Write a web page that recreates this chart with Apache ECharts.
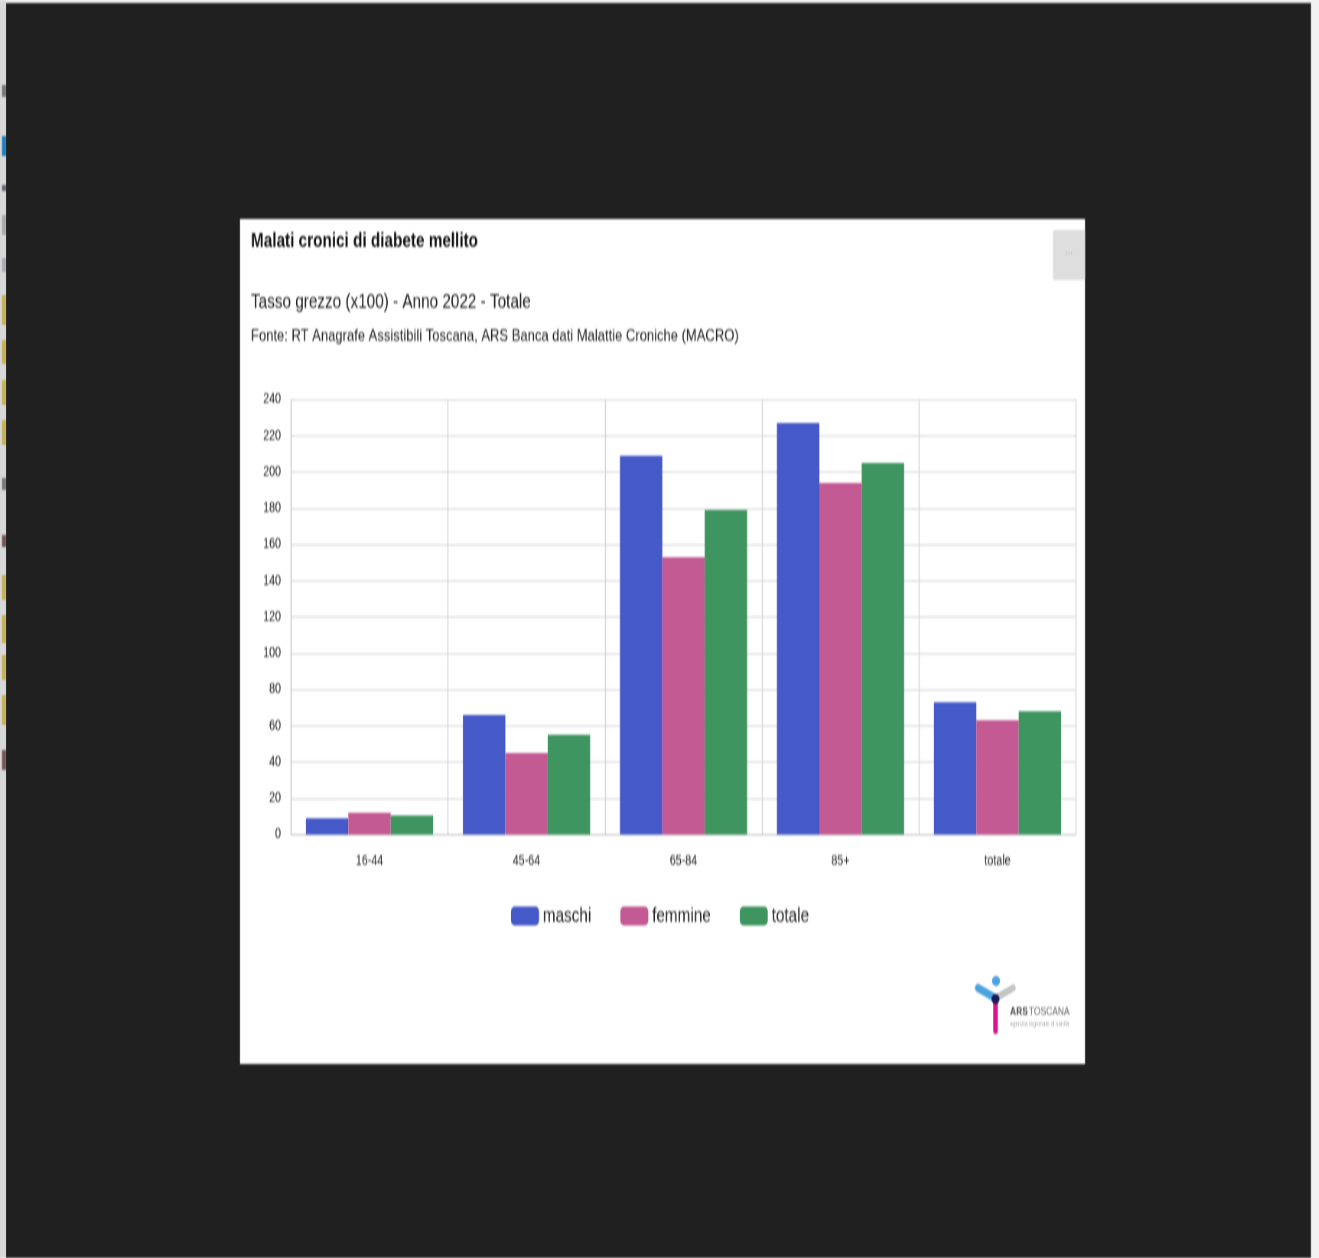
<!DOCTYPE html>
<html>
<head>
<meta charset="utf-8">
<style>
html,body{margin:0;padding:0;background:#f2f2f2;overflow:hidden}
#c{width:1724px;height:1258px;transform:scaleX(0.765);transform-origin:0 0;filter:blur(0.8px)}
</style>
<script src="https://cdn.jsdelivr.net/npm/echarts@6/dist/echarts.min.js"></script>
</head>
<body>
<div id="c"></div>
<script>
const categories = ['16-44','45-64','65-84','85+','totale'];
const maschi = [9,66,209,227,73];
const femmine = [12,45,153,194,63];
const totale = [10.5,55,179,205,68];
const seriesNames = ['maschi','femmine','totale'];
const colors = ['#4559c8','#c45a93','#3f9560'];
const font = '"Liberation Sans",Arial,sans-serif';
const sx = 0.765;
const X = v => v / sx;
const chart = echarts.init(document.getElementById('c'),null,{renderer:'canvas'});
const stripMarks = [[85,12,'#777'],[136,20,'#1a7fc0'],[185,6,'#667'],[215,20,'#aaa'],[258,14,'#aab'],[295,30,'#c9b050'],[340,24,'#c9b050'],[380,25,'#c9b050'],[420,25,'#c9b050'],[478,12,'#777'],[535,12,'#755'],[575,25,'#c9b050'],[615,28,'#c9b050'],[655,25,'#c9b050'],[695,30,'#c9b050'],[750,20,'#755']];
chart.setOption({
  animation:false,
  backgroundColor:'#f2f2f2',
  graphic:[
    {type:'rect',z:-10,shape:{x:X(6),y:3,width:X(1305),height:1255},style:{fill:'#202020'}},
    {type:'rect',z:-10,shape:{x:0,y:0,width:X(6),height:1258},style:{fill:'#d8d8d8'}},
    ...stripMarks.map(s=>({type:'rect',z:-9,shape:{x:X(2),y:s[0],width:X(4),height:s[1]},style:{fill:s[2]}})),
    {type:'rect',z:-8,shape:{x:X(240),y:219,width:X(845),height:845},style:{fill:'#ffffff'}},
    {type:'rect',z:-7,shape:{x:X(1053),y:230,width:X(32),height:50,r:2},style:{fill:'#dedede'}},
    {type:'text',z:-6,x:X(1069),y:251,style:{text:'...',fill:'#aaa',font:'12px '+font,align:'center',verticalAlign:'middle'}},
    {type:'text',x:X(251),y:241,style:{text:'Malati cronici di diabete mellito',fill:'#111',font:'bold 20px '+font,verticalAlign:'middle'}},
    {type:'text',x:X(251),y:302,style:{text:'Tasso grezzo (x100) - Anno 2022 - Totale',fill:'#1a1a1a',font:'20px '+font,verticalAlign:'middle'}},
    {type:'text',x:X(251),y:336,style:{text:'Fonte: RT Anagrafe Assistibili Toscana, ARS Banca dati Malattie Croniche (MACRO)',fill:'#1a1a1a',font:'17px '+font,verticalAlign:'middle'}},
    {type:'line',shape:{x1:X(995.5),y1:1002,x2:X(995.5),y2:1031},style:{stroke:'#d9158c',lineWidth:6,lineCap:'round'}},
    {type:'line',shape:{x1:X(978),y1:988,x2:X(995),y2:998},style:{stroke:'#4aa3df',lineWidth:8,lineCap:'round'}},
    {type:'line',shape:{x1:X(996),y1:998,x2:X(1013),y2:988},style:{stroke:'#c4c4c4',lineWidth:7,lineCap:'round'}},
    {type:'ellipse',shape:{cx:X(996),cy:981,rx:X(4),ry:5},style:{fill:'#4aa3df'}},
    {type:'ellipse',shape:{cx:X(995.5),cy:999,rx:X(4),ry:5},style:{fill:'#1a1a5a'}},
    {type:'text',x:X(1010),y:1012,style:{text:'ARS',fill:'#444',font:'bold 11px '+font,verticalAlign:'middle'}},
    {type:'text',x:X(1029),y:1012,style:{text:'TOSCANA',fill:'#666',font:'11px '+font,verticalAlign:'middle'}},
    {type:'text',x:X(1010),y:1024,style:{text:'agenzia regionale di sanità',fill:'#aaa',font:'6.5px '+font,verticalAlign:'middle'}}
  ],
  legend:{
    left:X(511),top:906,padding:0,itemWidth:X(28),itemHeight:19,itemGap:X(29),icon:'roundRect',
    textStyle:{fontFamily:font,fontSize:20,color:'#222'},
    data:seriesNames
  },
  grid:{left:X(291),top:399.5,width:X(785),height:435,containLabel:false},
  xAxis:{
    type:'category',data:categories,
    axisLine:{lineStyle:{color:'#c8c8c8'}},
    axisTick:{show:false},
    splitLine:{show:true,lineStyle:{color:'#d4d4d4',width:1.3}},
    axisLabel:{fontFamily:font,fontSize:14,color:'#222',margin:20}
  },
  yAxis:{
    type:'value',min:0,max:240,interval:20,
    axisLine:{show:true,lineStyle:{color:'#c8c8c8',width:1.3}},
    axisTick:{show:false},
    splitLine:{lineStyle:{color:'#dcdcdc',width:1.5}},
    axisLabel:{fontFamily:font,fontSize:14,color:'#222',margin:X(10),padding:[2,0,0,0]}
  },
  series:[
    {name:seriesNames[0],type:'bar',data:maschi,itemStyle:{color:colors[0]},barGap:'0%',barCategoryGap:'19%'},
    {name:seriesNames[1],type:'bar',data:femmine,itemStyle:{color:colors[1]}},
    {name:seriesNames[2],type:'bar',data:totale,itemStyle:{color:colors[2]}}
  ]
});
</script>
</body>
</html>
